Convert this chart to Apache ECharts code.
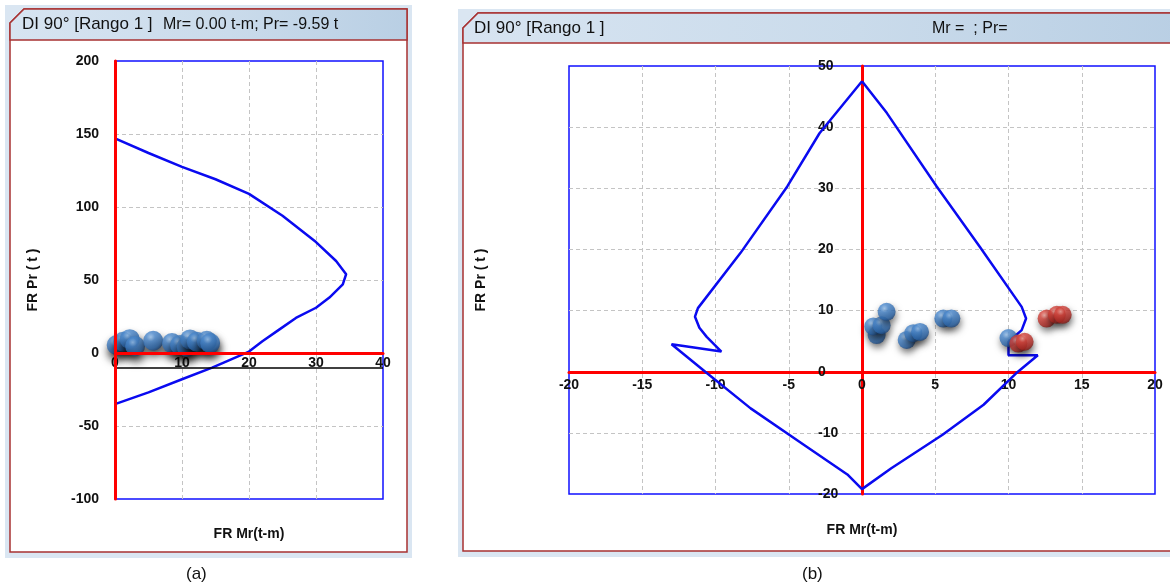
<!DOCTYPE html>
<html>
<head>
<meta charset="utf-8">
<script src="https://cdn.jsdelivr.net/npm/echarts@6/dist/echarts.min.js"></script>
<style>
  html, body { margin: 0; padding: 0; background: #ffffff; }
  #chart { width: 1170px; height: 587px; }
</style>
</head>
<body>
<div id="chart"></div>
<script>
// ---- Panel (a): interaction diagram, FR Mr vs FR Pr ----
const aTitle = 'DI 90° [Rango 1 ]';
const aReadout = 'Mr= 0.00 t-m; Pr= -9.59 t';
const aCurveMr = [0, 5, 10, 15, 20, 25, 30, 33, 34.5, 34, 32, 30, 27, 24.5, 22, 20, 17, 14.5, 10, 5, 0];
const aCurvePr = [147, 137, 127.5, 119, 109, 94, 76, 63, 54, 47, 38, 31, 24, 16, 8, 1, -5, -10, -18, -27, -35];
const aLoadMr = [0.25, 1.2, 2.2, 3.0, 5.7, 8.5, 9.7, 10.7, 11.2, 12.2, 13.7, 14.2];
const aLoadPr = [5.5, 7.7, 9.5, 4.8, 8.4, 6.8, 5.5, 4.3, 9.3, 7.7, 8.4, 6.8];
const aCursorPr = -10;
const aMrTicks = { min: 0, max: 40, step: 10 };
const aPrTicks = { min: -100, max: 200, step: 50 };

// ---- Panel (b) ----
const bTitle = 'DI 90° [Rango 1 ]';
const bReadout = 'Mr =  ; Pr=';
const bCurveMr = [0, -2.9, -5.1, -8.3, -11.2, -11.4, -11.1, -10.6, -9.6, -13.0, -10.7, -7.6, -4.3, -1.0, 0, 2.0, 5.5, 8.3, 10.5, 12.0, 10.0, 10.0, 10.9, 11.2, 10.9, 8.05, 5.1, 1.7, 0];
const bCurvePr = [47.5, 39, 30.3, 19.4, 10.4, 9, 7.2, 5.7, 3.3, 4.5, 0, -6, -11.4, -16.8, -19.2, -15.8, -10.3, -5.4, -0.3, 2.7, 2.7, 4.9, 6.8, 8.7, 10.6, 20.4, 30.3, 42.3, 47.5];
const bBlueMr = [1.0, 0.77, 1.34, 1.68, 3.05, 3.5, 3.96, 5.55, 6.1, 10.0];
const bBluePr = [6.0, 7.4, 7.6, 9.8, 5.2, 6.3, 6.5, 8.7, 8.7, 5.5];
const bRedMr = [10.67, 11.1, 12.6, 13.3, 13.7];
const bRedPr = [4.6, 4.9, 8.7, 9.3, 9.3];
const bMrTicks = { min: -20, max: 20, step: 5 };
const bPrTicks = { min: -20, max: 50, step: 10 };

const captions = ['(a)', '(b)'];
const xName = 'FR Mr(t-m)';
const yName = 'FR Pr ( t )';

const zip = (xs, ys) => xs.map((x, i) => [x, ys[i]]);

const FONT = 'Liberation Sans, Arial, sans-serif';
const BLUE = '#0a0af0';
const RED = '#ff0000';
const FRAME = '#a83232';

function sphere(light, mid, dark, edge) {
  return {
    type: 'radial', x: 0.38, y: 0.32, r: 0.72,
    colorStops: [
      { offset: 0, color: light },
      { offset: 0.3, color: mid },
      { offset: 0.78, color: dark },
      { offset: 1, color: edge }
    ]
  };
}
const blueBall = sphere('#9cc4ee', '#4d8bd0', '#2e69ad', '#1b4275');
const redBall = sphere('#f3a49b', '#d9473f', '#b02b25', '#761813');

const tickLabel = { color: '#111', fontWeight: 'bold', fontSize: 14, fontFamily: FONT };
const axisName = { color: '#111', fontWeight: 'bold', fontSize: 14, fontFamily: FONT };
const split = { show: true, showMinLine: false, showMaxLine: false,
  lineStyle: { type: [4, 3], color: '#c4c4c4', width: 1 } };
const redAxis = { onZero: false, lineStyle: { color: RED, width: 3 } };

function windowFrame(x0, y0, x1, y1, headBottom, notch) {
  const hdr = {
    type: 'linear', x: 0, y: 0, x2: 1, y2: 0,
    colorStops: [
      { offset: 0, color: '#d7e4f1' },
      { offset: 0.55, color: '#cadbeb' },
      { offset: 1, color: '#b9cfe4' }
    ]
  };
  return [
    { type: 'rect', z: -20, shape: { x: x0 - 5, y: y0 - 4, width: x1 - x0 + 10, height: y1 - y0 + 10 },
      style: { fill: '#dae6f2' } },
    { type: 'polygon', z: -19,
      shape: { points: [[x0, y0 + notch], [x0 + notch, y0], [x1, y0], [x1, y1], [x0, y1]] },
      style: { fill: '#ffffff', stroke: FRAME, lineWidth: 1.5 } },
    { type: 'polygon', z: -18,
      shape: { points: [[x0, y0 + notch], [x0 + notch, y0], [x1, y0], [x1, headBottom], [x0, headBottom]] },
      style: { fill: hdr, stroke: FRAME, lineWidth: 1.5 } }
  ];
}

const graphics = []
  .concat(windowFrame(10, 9, 407, 552, 40, 14))
  .concat(windowFrame(463, 13, 1180, 551, 43, 15))
  .concat([
    { type: 'text', z: 10, left: 22, top: 16,
      style: { text: aTitle, font: '17px ' + FONT, fill: '#111' } },
    { type: 'text', z: 10, left: 163, top: 17,
      style: { text: aReadout, font: '16px "Liberation Sans Narrow", ' + FONT, fill: '#111' } },
    { type: 'text', z: 10, left: 474, top: 20,
      style: { text: bTitle, font: '17px ' + FONT, fill: '#111' } },
    { type: 'text', z: 10, left: 932, top: 21,
      style: { text: bReadout, font: '16px "Liberation Sans Narrow", ' + FONT, fill: '#111' } },
    { type: 'text', z: 10, left: 186, top: 566,
      style: { text: captions[0], font: '17px ' + FONT, fill: '#111' } },
    { type: 'text', z: 10, left: 802, top: 566,
      style: { text: captions[1], font: '17px ' + FONT, fill: '#111' } }
  ]);

const option = {
  backgroundColor: '#ffffff',
  animation: false,
  graphic: graphics,
  grid: [
    { left: 115, top: 61, width: 268, height: 438, show: true, borderColor: '#1010ff', borderWidth: 1.5,
      backgroundColor: 'transparent', outerBoundsMode: 'none', containLabel: false },
    { left: 569, top: 66, width: 586, height: 428, show: true, borderColor: '#1010ff', borderWidth: 1.5,
      backgroundColor: 'transparent', outerBoundsMode: 'none', containLabel: false }
  ],
  xAxis: [
    // horizontal axis drawn on Pr = 0 (146 px above the plot bottom)
    { type: 'value', gridIndex: 0, min: aMrTicks.min, max: aMrTicks.max, interval: aMrTicks.step,
      position: 'bottom', offset: -146,
      axisLine: redAxis, axisTick: { show: false },
      axisLabel: Object.assign({ margin: 3 }, tickLabel), splitLine: split,
      name: xName, nameLocation: 'middle', nameGap: 174, nameTextStyle: axisName },
    { type: 'value', gridIndex: 1, min: bMrTicks.min, max: bMrTicks.max, interval: bMrTicks.step,
      position: 'bottom', offset: -122,
      axisLine: redAxis, axisTick: { show: false },
      axisLabel: Object.assign({ margin: 6 }, tickLabel), splitLine: split,
      name: xName, nameLocation: 'middle', nameGap: 151, nameTextStyle: axisName }
  ],
  yAxis: [
    { type: 'value', gridIndex: 0, min: aPrTicks.min, max: aPrTicks.max, interval: aPrTicks.step,
      axisLine: redAxis, axisTick: { show: false },
      axisLabel: Object.assign({ margin: 16 }, tickLabel), splitLine: split,
      name: yName, nameLocation: 'middle', nameGap: 75, nameTextStyle: axisName },
    // vertical axis sits on Mr = 0, i.e. the middle of the plot
    { type: 'value', gridIndex: 1, min: bPrTicks.min, max: bPrTicks.max, interval: bPrTicks.step,
      offset: -293,
      axisLine: redAxis, axisTick: { show: false },
      axisLabel: Object.assign({ margin: 44, align: 'left', padding: [6, 0, 0, 0] }, tickLabel), splitLine: split,
      name: yName, nameLocation: 'middle', nameGap: 374, nameTextStyle: axisName }
  ],
  series: [
    { type: 'scatter', xAxisIndex: 0, yAxisIndex: 0, z: 2, symbolSize: 20,
      data: zip(aLoadMr, aLoadPr),
      itemStyle: { color: blueBall, shadowBlur: 8, shadowColor: 'rgba(0,0,0,0.9)', shadowOffsetX: 1, shadowOffsetY: 6 } },
    { type: 'line', xAxisIndex: 0, yAxisIndex: 0, z: 3, showSymbol: false, silent: true,
      data: zip(aCurveMr, aCurvePr),
      lineStyle: { color: BLUE, width: 2.5 } },
    { type: 'line', xAxisIndex: 0, yAxisIndex: 0, z: 5, data: [], silent: true,
      markLine: {
        silent: true, symbol: 'none', label: { show: false },
        data: [
          { yAxis: aCursorPr, lineStyle: { color: '#000000', width: 1.5, type: 'solid' } },
          { xAxis: 0, lineStyle: { color: RED, width: 3, type: 'solid' } },
          { yAxis: 0, lineStyle: { color: RED, width: 3, type: 'solid' } }
        ]
      } },
    { type: 'line', xAxisIndex: 1, yAxisIndex: 1, z: 3, showSymbol: false, silent: true,
      data: zip(bCurveMr, bCurvePr),
      lineStyle: { color: BLUE, width: 2.5 } },
    { type: 'scatter', xAxisIndex: 1, yAxisIndex: 1, z: 4, symbolSize: 18,
      data: zip(bBlueMr, bBluePr),
      itemStyle: { color: blueBall, shadowBlur: 7, shadowColor: 'rgba(0,0,0,0.65)', shadowOffsetX: 1, shadowOffsetY: 4 } },
    { type: 'scatter', xAxisIndex: 1, yAxisIndex: 1, z: 4, symbolSize: 18,
      data: zip(bRedMr, bRedPr),
      itemStyle: { color: redBall, shadowBlur: 7, shadowColor: 'rgba(0,0,0,0.65)', shadowOffsetX: 1, shadowOffsetY: 4 } }
  ]
};

const chart = echarts.init(document.getElementById('chart'), null, { renderer: 'canvas' });
chart.setOption(option);
</script>
</body>
</html>
